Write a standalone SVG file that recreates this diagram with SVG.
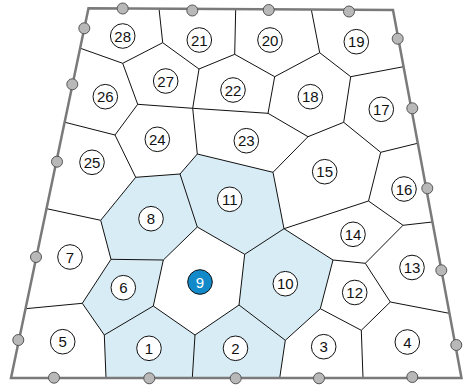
<svg xmlns="http://www.w3.org/2000/svg" width="463" height="386" viewBox="0 0 463 386">
<style>
.cell{fill:#d8ecf5;stroke:none}
.e{stroke:#111;stroke-width:1;fill:none;stroke-linejoin:round}
.bd{stroke:#7a7a7a;stroke-width:2.5;fill:none;stroke-linejoin:miter}
.dot{fill:#b8b8b8;stroke:#555;stroke-width:1}
.lc{fill:#fff;stroke:#111;stroke-width:1}
.lb{fill:#1289c9;stroke:#111;stroke-width:1}
.t{font-family:"Liberation Sans",Arial,sans-serif;font-size:15px;fill:#111;text-anchor:middle;dominant-baseline:central}
.tw{fill:#fff}
</style>
<rect width="463" height="386" fill="#fff"/>
<g id="shading">
<polygon class="cell" points="135.7,177.3 180,174 197.3,227 163.3,260 111,259.3 100.7,220.3"/>
<polygon class="cell" points="180,174 197.3,154 273,172.3 284,228.7 244.7,254.3 197.3,227"/>
<polygon class="cell" points="111,259.3 163.3,260 153.3,306 104.3,335 82.3,303.3"/>
<polygon class="cell" points="244.7,254.3 284,228.7 333,260 320.3,308.7 285.3,340.3 239,305"/>
<polygon class="cell" points="104.3,335 153.3,306 195,335 192.3,378 106,378"/>
<polygon class="cell" points="195,335 239,305 285.3,340.3 279.7,378 192.3,378"/>
</g>
<g id="connectors" class="e">
<path d="M159,8.5 L162.7,42.7 L199,69 L234.7,54.3 L235.7,9 M162.7,42.7 L122.7,63.3 L80.5,48.3 M122.7,63.3 L137.7,104.3 L192.7,108.3 L199,69 M137.7,104.3 L115,135 L65,122.3 M115,135 L135.7,177.3 L180,174 L197.3,154 L192.7,108.3 L268,113.3 L274.7,76.7 L234.7,54.3 M274.7,76.7 L319.7,52.7 L311.3,9.5 M319.7,52.7 L350.7,76.7 L403.5,66.7 M350.7,76.7 L343.7,122.3 L308,136.7 L268,113.3 M343.7,122.3 L380.7,152.3 L417.5,143.3 M308,136.7 L273,172.3 L197.3,154 M273,172.3 L284,228.7 L368.5,201 L380.7,152.3 M368.5,201 L403,225.3 L432.2,222 M403,225.3 L365.3,263.3 L333,260 L284,228.7 L244.7,254.3 L197.3,227 L180,174 M135.7,177.3 L100.7,220.3 L46.7,208.7 M100.7,220.3 L111,259.3 L163.3,260 L197.3,227 M111,259.3 L82.3,303.3 L25.6,308.7 M82.3,303.3 L104.3,335 L106,378 M104.3,335 L153.3,306 L163.3,260 M153.3,306 L195,335 L192.3,378 M195,335 L239,305 L244.7,254.3 M239,305 L285.3,340.3 L279.7,378 M285.3,340.3 L320.3,308.7 L333,260 M320.3,308.7 L361.3,330.3 L363,378 M361.3,330.3 L390.3,302 L365.3,263.3 M390.3,302 L449.2,313.3"/>
</g>
<g id="boundary">
<polygon class="bd" points="88.5,8.3 393,10 461.5,378 11,378"/>
<circle class="dot" cx="122.7" cy="8.5" r="5.5"/>
<circle class="dot" cx="192.3" cy="10.5" r="5.5"/>
<circle class="dot" cx="268.7" cy="10" r="5.5"/>
<circle class="dot" cx="349" cy="11.5" r="5.5"/>
<circle class="dot" cx="397.7" cy="38.7" r="5.5"/>
<circle class="dot" cx="412.3" cy="108.3" r="5.5"/>
<circle class="dot" cx="427.3" cy="188.3" r="5.5"/>
<circle class="dot" cx="441.3" cy="270.3" r="5.5"/>
<circle class="dot" cx="456.3" cy="345" r="5.5"/>
<circle class="dot" cx="84.3" cy="28.3" r="5.5"/>
<circle class="dot" cx="72.3" cy="84.3" r="5.5"/>
<circle class="dot" cx="57" cy="161.7" r="5.5"/>
<circle class="dot" cx="36" cy="257" r="5.5"/>
<circle class="dot" cx="18.3" cy="340" r="5.5"/>
<circle class="dot" cx="54" cy="377.7" r="5.5"/>
<circle class="dot" cx="149.3" cy="378.3" r="5.5"/>
<circle class="dot" cx="235.7" cy="378.3" r="5.5"/>
<circle class="dot" cx="319" cy="378.3" r="5.5"/>
<circle class="dot" cx="412.3" cy="377" r="5.5"/>
</g>
<g id="n1"><circle class="lc" cx="149" cy="348.3" r="12.3"/><text class="t" x="149" y="348.3">1</text></g>
<g id="n2"><circle class="lc" cx="235.5" cy="348.3" r="12.3"/><text class="t" x="235.5" y="348.3">2</text></g>
<g id="n3"><circle class="lc" cx="323.7" cy="346.7" r="12.3"/><text class="t" x="323.7" y="346.7">3</text></g>
<g id="n4"><circle class="lc" cx="407.3" cy="342" r="12.3"/><text class="t" x="407.3" y="342">4</text></g>
<g id="n5"><circle class="lc" cx="62.7" cy="341.7" r="12.3"/><text class="t" x="62.7" y="341.7">5</text></g>
<g id="n6"><circle class="lc" cx="123.3" cy="287.7" r="12.3"/><text class="t" x="123.3" y="287.7">6</text></g>
<g id="n7"><circle class="lc" cx="70" cy="257" r="12.3"/><text class="t" x="70" y="257">7</text></g>
<g id="n8"><circle class="lc" cx="151" cy="218.7" r="12.3"/><text class="t" x="151" y="218.7">8</text></g>
<g id="n9"><circle class="lb" cx="200" cy="282" r="12.3"/><text class="t tw" x="200" y="282">9</text></g>
<g id="n10"><circle class="lc" cx="285.3" cy="283.7" r="12.3"/><text class="t" x="285.3" y="283.7">10</text></g>
<g id="n11"><circle class="lc" cx="229.7" cy="199.3" r="12.3"/><text class="t" x="229.7" y="199.3">11</text></g>
<g id="n12"><circle class="lc" cx="354.7" cy="292.5" r="12.3"/><text class="t" x="354.7" y="292.5">12</text></g>
<g id="n13"><circle class="lc" cx="412" cy="267.5" r="12.3"/><text class="t" x="412" y="267.5">13</text></g>
<g id="n14"><circle class="lc" cx="353" cy="234.3" r="12.3"/><text class="t" x="353" y="234.3">14</text></g>
<g id="n15"><circle class="lc" cx="324.7" cy="171.7" r="12.3"/><text class="t" x="324.7" y="171.7">15</text></g>
<g id="n16"><circle class="lc" cx="404" cy="189" r="12.3"/><text class="t" x="404" y="189">16</text></g>
<g id="n17"><circle class="lc" cx="381.3" cy="109.3" r="12.3"/><text class="t" x="381.3" y="109.3">17</text></g>
<g id="n18"><circle class="lc" cx="310.3" cy="96.7" r="12.3"/><text class="t" x="310.3" y="96.7">18</text></g>
<g id="n19"><circle class="lc" cx="356.3" cy="41.7" r="12.3"/><text class="t" x="356.3" y="41.7">19</text></g>
<g id="n20"><circle class="lc" cx="270" cy="40" r="12.3"/><text class="t" x="270" y="40">20</text></g>
<g id="n21"><circle class="lc" cx="199.3" cy="40" r="12.3"/><text class="t" x="199.3" y="40">21</text></g>
<g id="n22"><circle class="lc" cx="233" cy="90" r="12.3"/><text class="t" x="233" y="90">22</text></g>
<g id="n23"><circle class="lc" cx="246.3" cy="140.7" r="12.3"/><text class="t" x="246.3" y="140.7">23</text></g>
<g id="n24"><circle class="lc" cx="157.3" cy="139.3" r="12.3"/><text class="t" x="157.3" y="139.3">24</text></g>
<g id="n25"><circle class="lc" cx="92" cy="162.3" r="12.3"/><text class="t" x="92" y="162.3">25</text></g>
<g id="n26"><circle class="lc" cx="105.3" cy="96.7" r="12.3"/><text class="t" x="105.3" y="96.7">26</text></g>
<g id="n27"><circle class="lc" cx="165.7" cy="81" r="12.3"/><text class="t" x="165.7" y="81">27</text></g>
<g id="n28"><circle class="lc" cx="122.7" cy="36" r="12.3"/><text class="t" x="122.7" y="36">28</text></g>
</svg>
